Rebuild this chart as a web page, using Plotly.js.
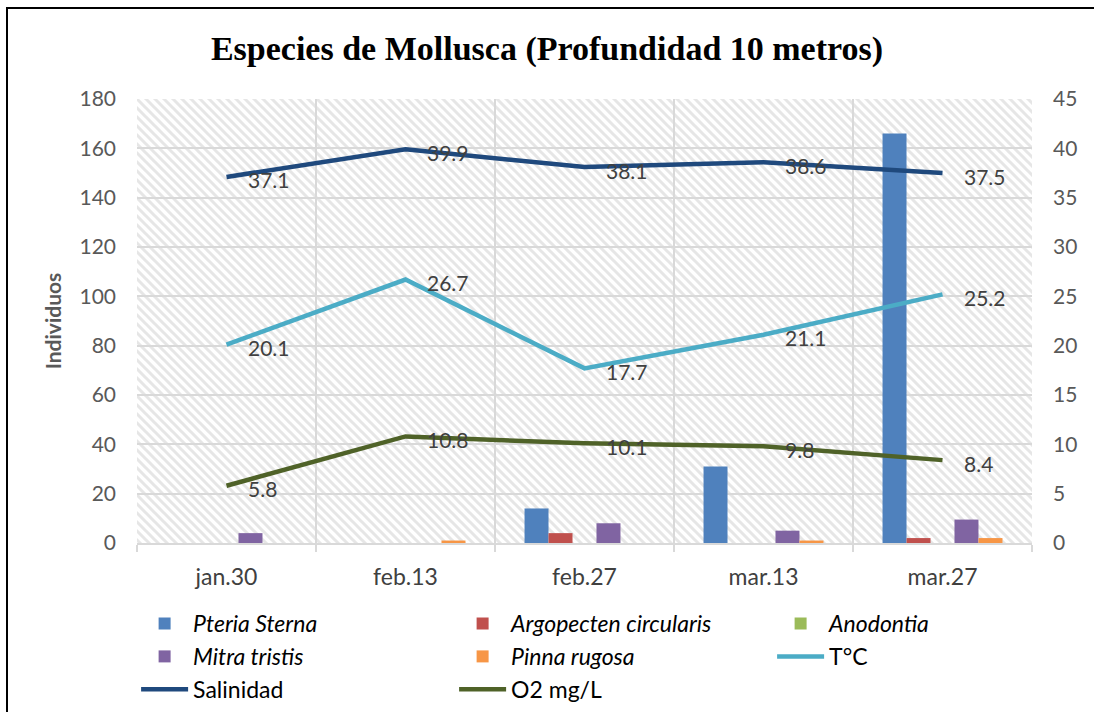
<!DOCTYPE html>
<html>
<head>
<meta charset="utf-8">
<script src="https://cdn.plot.ly/plotly-3.0.1.min.js"></script>
<style>
html,body{margin:0;padding:0;background:#fff;overflow:hidden;}
#wrap{position:relative;width:1094px;height:712px;}
#chart{width:1094px;height:712px;}
#frame{position:absolute;left:6px;top:7px;width:1200px;height:800px;border-left:2.5px solid #000;border-top:2.5px solid #000;pointer-events:none;}
</style>
</head>
<body>
<div id="wrap"><div id="chart"></div><div id="frame"></div></div>
<script>
// ---- data ----
const categories = ["jan.30", "feb.13", "feb.27", "mar.13", "mar.27"];
const pteriaSterna = [0, 0, 14, 31, 166];
const argopectenCircularis = [0, 0, 4, 0, 2];
const anodontia = [0, 0, 0, 0, 0];
const mitraTristis = [4, 0, 8, 5, 9.5];
const pinnaRugosa = [0, 1, 0, 1, 2];
const temperatura = [20.1, 26.7, 17.7, 21.1, 25.2];
const salinidad = [37.1, 39.9, 38.1, 38.6, 37.5];
const oxigeno = [5.8, 10.8, 10.1, 9.8, 8.4];

const leftTicks = [0, 20, 40, 60, 80, 100, 120, 140, 160, 180];
const rightTicks = [0, 5, 10, 15, 20, 25, 30, 35, 40, 45];

// ---- styles ----
const tickFont = "Lato, 'Liberation Sans', sans-serif";
function barTrace(name, vals, color) {
  return {type: "bar", name: name, x: categories, y: vals, yaxis: "y",
          marker: {color: color, line: {width: 0}}, hoverinfo: "y"};
}
function lineTrace(name, vals, color) {
  return {type: "scatter", mode: "lines", name: name, x: categories, y: vals, yaxis: "y2",
          line: {color: color, width: 4.5}, hoverinfo: "y"};
}
const traces = [
  barTrace("<i>Pteria Sterna</i>", pteriaSterna, "#4F81BD"),
  barTrace("<i>Argopecten circularis</i>", argopectenCircularis, "#C0504D"),
  barTrace("<i>Anodontia</i>", anodontia, "#9BBB59"),
  barTrace("<i>Mitra tristis</i>", mitraTristis, "#8064A2"),
  barTrace("<i>Pinna rugosa</i>", pinnaRugosa, "#F79646"),
  lineTrace("T°C", temperatura, "#4BACC6"),
  lineTrace("Salinidad", salinidad, "#1F497D"),
  lineTrace("O2 mg/L", oxigeno, "#4F6228")
];

const annotations = [];
[temperatura, salinidad, oxigeno].forEach(series => {
  series.forEach((v, i) => {
    annotations.push({x: categories[i], y: v, xref: "x", yref: "y2", text: v.toFixed(1),
      showarrow: false, xanchor: "left", yanchor: "middle", xshift: 19, yshift: -3,
      font: {family: tickFont, size: 21, color: "#404040"}});
  });
});

const hatch = "data:image/svg+xml;utf8," + encodeURIComponent(
  "<svg xmlns='http://www.w3.org/2000/svg' width='895' height='444'>" +
  "<rect width='100%' height='100%' fill='#ffffff'/>" +
  "<defs><pattern id='p' width='9' height='9' patternUnits='userSpaceOnUse'>" +
  "<path d='M-3,-3 L12,12 M-3,6 L3,12 M6,-3 L12,3' stroke='#e6e6e6' stroke-width='3'/>" +
  "</pattern></defs><rect width='100%' height='100%' fill='url(#p)'/></svg>");

const layout = {
  width: 1094, height: 712,
  margin: {l: 137, r: 62, t: 99, b: 169, autoexpand: false},
  paper_bgcolor: "#ffffff",
  plot_bgcolor: "rgba(0,0,0,0)",
  title: {text: "<b>Especies de Mollusca (Profundidad 10 metros)</b>",
          font: {family: "'Liberation Serif', 'DejaVu Serif', serif", size: 34, color: "#000"},
          x: 0.5, xanchor: "center", y: 0.933, yanchor: "middle"},
  barmode: "group", bargap: 0.33, bargroupgap: 0,
  showlegend: true,
  legend: {orientation: "h", x: -0.001, xanchor: "left", y: -0.133, yanchor: "top",
           font: {family: tickFont, size: 23, color: "#000"},
           entrywidth: 256, traceorder: "normal", itemwidth: 47},
  xaxis: {type: "category", tickson: "boundaries", showgrid: true, gridcolor: "#d9d9d9", gridwidth: 2,
          ticks: "outside", ticklen: 7, tickcolor: "#d9d9d9", tickwidth: 2,
          showline: true, linecolor: "#d9d9d9", linewidth: 2,
          tickfont: {family: tickFont, size: 23, color: "#404040"}, ticklabelstandoff: 12},
  yaxis: {range: [0, 180], tickvals: leftTicks, showgrid: true, gridcolor: "#d9d9d9", gridwidth: 2,
          zeroline: false, ticks: "", ticklabelstandoff: 20,
          tickfont: {family: tickFont, size: 21, color: "#595959"},
          title: {text: "<b>Individuos</b>", standoff: 12,
                  font: {family: tickFont, size: 21, color: "#595959"}}},
  yaxis2: {range: [0, 45], tickvals: rightTicks, overlaying: "y", side: "right", showgrid: false,
           zeroline: false, ticks: "", ticklabelstandoff: 20,
           tickfont: {family: tickFont, size: 21, color: "#595959"}},
  images: [{source: hatch, xref: "paper", yref: "paper", x: 0, y: 1, sizex: 1, sizey: 1,
            sizing: "stretch", xanchor: "left", yanchor: "top", layer: "below"}],
  annotations: annotations
};

Plotly.newPlot("chart", traces, layout, {displayModeBar: false, staticPlot: true});
</script>
</body>
</html>
